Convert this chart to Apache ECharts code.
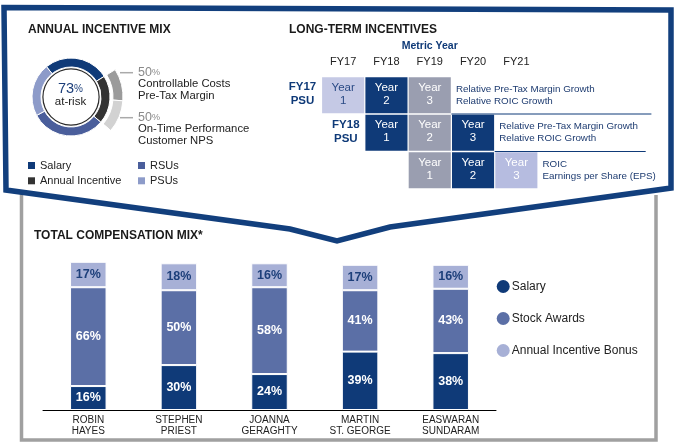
<!DOCTYPE html>
<html><head><meta charset="utf-8">
<script src="https://cdn.jsdelivr.net/npm/echarts@6/dist/echarts.min.js"></script>
<style>html,body{margin:0;padding:0;background:#fff}#c{width:679px;height:448px}</style>
</head><body><div id="c"></div>
<script>
// ---- Total compensation mix (stacked bars) ----
const execs = ['ROBIN\nHAYES','STEPHEN\nPRIEST','JOANNA\nGERAGHTY','MARTIN\nST. GEORGE','EASWARAN\nSUNDARAM'];
const salary = [16, 30, 24, 39, 38];
const stockAwards = [66, 50, 58, 41, 43];
const incentiveBonus = [17, 18, 16, 17, 16];
const barSeriesNames = ['Salary', 'Stock Awards', 'Annual Incentive Bonus'];

// ---- Annual incentive mix (donut) ----
const mixNames = ['Salary', 'Annual Incentive', 'RSUs', 'PSUs'];
const mixValues = [27, 20, 31, 22];
const aiMetricWeights = [50, 50];
const aiMetricLabels = [['Controllable Costs', 'Pre-Tax Margin'], ['On-Time Performance', 'Customer NPS']];

// ---- Long-term incentives (PSU grid) ----
const metricYears = ['FY17', 'FY18', 'FY19', 'FY20', 'FY21'];
const psuLabels = ['FY17\nPSU', 'FY18\nPSU', ''];
const psuStartYear = ['FY17', 'FY18', 'FY19'];
const psuPeriodYears = [1, 2, 3];
const psuMetrics = [
  ['Relative Pre-Tax Margin Growth', 'Relative ROIC Growth'],
  ['Relative Pre-Tax Margin Growth', 'Relative ROIC Growth'],
  ['ROIC', 'Earnings per Share (EPS)']
];

const FONT = "'Liberation Sans', Arial, sans-serif";
const NARROW = "'Liberation Sans Narrow', 'Liberation Sans', Arial, sans-serif";
const NAVY = '#0f3a78', STOCK = '#5b6fa6', BONUS = '#a7b0d6', FRAME = '#123f7d';
const mixColors = [NAVY, '#333333', '#4a5e9b', '#8d9bc9'];
const colFill = ['#c5c9e5', NAVY, '#9a9eb0', NAVY, '#b6bce0'];
const colText = ['#2a4a85', '#fff', '#fff', '#fff', '#fff'];

const chart = echarts.init(document.getElementById('c'), null, {renderer: 'canvas'});

const cells = [];
psuStartYear.forEach((fy, r) => {
  const s = metricYears.indexOf(fy);
  psuPeriodYears.forEach((y, k) => cells.push([s + k, r, y]));
});
const rowsData = psuStartYear.map((fy, r) => [metricYears.indexOf(fy), r, r]);

const atRisk = mixValues.slice(1).reduce((a, b) => a + b, 0);
const aiTotal = mixValues[1];
const outerData = [
  {value: mixValues[0], itemStyle: {color: 'rgba(0,0,0,0)'}},
  {value: aiTotal * aiMetricWeights[0] / 100, itemStyle: {color: '#9b9b9b'}},
  {value: aiTotal * aiMetricWeights[1] / 100, itemStyle: {color: '#d2d2d2'}},
  {value: mixValues[2] + mixValues[3], itemStyle: {color: 'rgba(0,0,0,0)'}}
];

const startAng = 129;
const barColors = [NAVY, STOCK, BONUS];
const barData = [salary, stockAwards, incentiveBonus];

const option = {
  animation: false,
  textStyle: {fontFamily: FONT},
  title: [
    {text: 'ANNUAL INCENTIVE MIX', left: 28, top: 24, padding: 0, textStyle: {fontSize: 12, fontWeight: 'bold', color: '#1a1a1a', fontFamily: FONT}},
    {text: 'LONG-TERM INCENTIVES', left: 289, top: 24, padding: 0, textStyle: {fontSize: 12, fontWeight: 'bold', color: '#1a1a1a', fontFamily: FONT}},
    {text: 'TOTAL COMPENSATION MIX*', left: 34, top: 230, padding: 0, textStyle: {fontSize: 12, fontWeight: 'bold', color: '#1a1a1a', fontFamily: FONT}}
  ],
  legend: [
    {data: ['Salary', 'Annual Incentive'], orient: 'vertical', left: 28, top: 160, icon: 'rect', itemWidth: 7, itemHeight: 7, itemGap: 4.3, padding: 0, selectedMode: false, itemStyle: {borderWidth: 0}, textStyle: {fontSize: 11, lineHeight: 11, color: '#222', fontFamily: FONT}},
    {data: ['RSUs', 'PSUs'], orient: 'vertical', left: 138, top: 160, icon: 'rect', itemWidth: 7, itemHeight: 7, itemGap: 4.3, padding: 0, selectedMode: false, itemStyle: {borderWidth: 0}, textStyle: {fontSize: 11, lineHeight: 11, color: '#222', fontFamily: FONT}},
    {data: barSeriesNames, orient: 'vertical', left: 496.7, top: 280, icon: 'circle', itemWidth: 13, itemHeight: 13, itemGap: 19, padding: 0, selectedMode: false, itemStyle: {borderWidth: 0}, textStyle: {fontSize: 12, color: '#222', fontFamily: FONT, padding: [0, 0, 0, -3]}}
  ],
  grid: [
    {left: 43, width: 453, top: 260.3, height: 149.7},
    {left: 321.5, width: 216.5, top: 76.5, height: 112.5}
  ],
  xAxis: [
    {gridIndex: 0, type: 'category', data: execs, axisTick: {show: false},
     axisLine: {lineStyle: {color: '#000', width: 1}},
     axisLabel: {color: '#222', fontSize: 10, lineHeight: 11, margin: 5, fontFamily: FONT}},
    {gridIndex: 1, type: 'category', data: metricYears, position: 'top',
     axisLine: {show: false}, axisTick: {show: false}, splitLine: {show: false},
     axisLabel: {color: '#222', fontSize: 11, margin: 9, fontFamily: FONT},
     name: 'Metric Year', nameLocation: 'middle', nameGap: 25,
     nameTextStyle: {color: NAVY, fontWeight: 'bold', fontSize: 10.5, fontFamily: FONT}}
  ],
  yAxis: [
    {gridIndex: 0, type: 'value', min: 0, max: 100, show: false},
    {gridIndex: 1, type: 'category', data: ['0', '1', '2'], inverse: true, show: false}
  ],
  series: [
    ...barSeriesNames.map((nm, i) => ({
      name: nm, type: 'bar', stack: 'mix', xAxisIndex: 0, yAxisIndex: 0,
      barWidth: 36.5, data: barData[i], silent: true,
      itemStyle: {color: barColors[i], borderColor: '#fff', borderWidth: 1},
      label: {show: true, position: 'inside', formatter: '{c}%', color: i === 2 ? '#1d3f7a' : '#fff',
              fontSize: 12.5, fontWeight: 'bold', fontFamily: NARROW}
    })),
    {
      type: 'pie', center: [71, 97], radius: [30, 39], startAngle: startAng, clockwise: true,
      silent: true, label: {show: false}, labelLine: {show: false},
      itemStyle: {borderColor: '#fff', borderWidth: 1},
      data: mixNames.map((n, i) => ({name: n, value: mixValues[i], itemStyle: {color: mixColors[i]}}))
    },
    {
      type: 'pie', center: [71, 97], radius: [42, 52], startAngle: startAng, clockwise: true,
      silent: true, label: {show: false}, labelLine: {show: false},
      itemStyle: {borderColor: '#fff', borderWidth: 1}, data: outerData
    },
    {
      type: 'pie', center: [71, 97], radius: [27.5, 28.7], silent: true,
      label: {show: false}, labelLine: {show: false},
      data: [{value: 1, itemStyle: {color: '#2a2a2a'}}]
    },
    {
      type: 'custom', xAxisIndex: 1, yAxisIndex: 1, data: cells, silent: true,
      renderItem: function (params, api) {
        const col = api.value(0), row = api.value(1), yr = api.value(2);
        const c = api.coord([col, row]);
        const s = api.size([1, 1]);
        const w = s[0] - 1.2, h = s[1] - 1.6;
        return {type: 'group', children: [
          {type: 'rect', shape: {x: c[0] - w / 2, y: c[1] - h / 2, width: w, height: h}, style: {fill: colFill[col]}},
          {type: 'text', style: {text: 'Year\n' + yr, x: c[0], y: c[1] - 1, align: 'center', verticalAlign: 'middle',
            fill: colText[col], fontSize: 11.5, fontFamily: FONT, lineHeight: 13}}
        ]};
      }
    },
    {
      type: 'custom', xAxisIndex: 1, yAxisIndex: 1, data: rowsData, silent: true,
      renderItem: function (params, api) {
        const col = api.value(0), row = api.value(1), idx = api.value(2);
        const c = api.coord([col, row]);
        const s = api.size([1, 1]);
        const left = c[0] - s[0] / 2;
        const right = c[0] + s[0] * 2.5;
        const children = [
          {type: 'text', style: {text: psuLabels[idx], x: left - 19, y: c[1] - 1, align: 'center', verticalAlign: 'middle',
            fill: NAVY, fontSize: 11.5, fontWeight: 'bold', fontFamily: FONT, lineHeight: 14}},
          {type: 'text', style: {text: psuMetrics[idx].join('\n'), x: right + 4.5, y: c[1], align: 'left', verticalAlign: 'middle',
            fill: '#1d3b70', fontSize: 9.8, fontFamily: FONT, lineHeight: 12}}
        ];
        if (idx < 2) {
          const lineLen = idx === 0 ? 200 : 151;
          children.push({type: 'line', shape: {x1: right, y1: c[1] + s[1] / 2, x2: right + lineLen, y2: c[1] + s[1] / 2},
            style: {stroke: NAVY, lineWidth: 1}});
        }
        return {type: 'group', children};
      }
    }
  ],
  graphic: [
    {type: 'polyline', z: 0, silent: true, shape: {points: [[21.5, 193], [21.5, 440], [656, 440], [656, 195]]},
     style: {stroke: '#a0a0a0', lineWidth: 3.5, fill: null}},
    {type: 'polygon', z: 1, silent: true,
     shape: {points: [[4, 7.5], [671, 10], [671, 188], [390, 227], [337, 241], [290, 229], [6, 190]]},
     style: {stroke: FRAME, lineWidth: 5.5, fill: null, lineJoin: 'miter'}},
    {type: 'text', silent: true, z: 10, style: {
      text: '{n|' + atRisk + '}{p|%}\n{t|at-risk}', x: 70.5, y: 95, align: 'center', verticalAlign: 'middle',
      rich: {n: {fontSize: 14.5, fill: '#1d3f7a', fontFamily: FONT, lineHeight: 13},
             p: {fontSize: 10, fill: '#1d3f7a', fontFamily: FONT, lineHeight: 13},
             t: {fontSize: 11.5, fill: '#222', fontFamily: FONT, lineHeight: 12}}}},
    {type: 'line', silent: true, shape: {x1: 120, y1: 72.7, x2: 133, y2: 72.7}, style: {stroke: '#aaa', lineWidth: 1.5}},
    {type: 'line', silent: true, shape: {x1: 120, y1: 117.7, x2: 133, y2: 117.7}, style: {stroke: '#aaa', lineWidth: 1.5}},
    ...aiMetricLabels.map((lines, i) => ({
      type: 'text', silent: true, style: {
        text: '{n|' + aiMetricWeights[i] + '}{p|%}\n' + lines.map(l => '{t|' + l + '}').join('\n'),
        x: 138, y: [66.5, 111.5][i], align: 'left', verticalAlign: 'top',
        rich: {n: {fontSize: 12.5, fill: '#8a8a8a', fontFamily: FONT, lineHeight: 12.2},
               p: {fontSize: 9, fill: '#8a8a8a', fontFamily: FONT, lineHeight: 12.2},
               t: {fontSize: 11.3, fill: '#222', fontFamily: FONT, lineHeight: 11.3}}}
    }))
  ]
};
chart.setOption(option);
</script></body></html>
